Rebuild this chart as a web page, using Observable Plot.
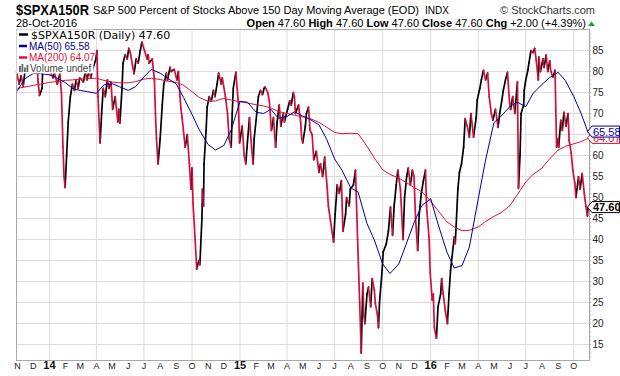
<!DOCTYPE html>
<html><head><meta charset="utf-8">
<script src="https://cdn.jsdelivr.net/npm/d3@7"></script>
<script src="https://cdn.jsdelivr.net/npm/@observablehq/plot@0.6"></script>
<style>body{margin:0;background:#fff}#chart{width:620px;height:376px}</style>
</head><body><div id="chart"></div>
<script>
const priceDates = ["2013-10-30","2013-11-04","2013-11-08","2013-11-12","2013-11-15","2013-11-21","2013-11-27","2013-12-03","2013-12-09","2013-12-10","2013-12-13","2013-12-18","2013-12-20","2013-12-24","2013-12-27",
"2014-01-02","2014-01-08","2014-01-10","2014-01-16","2014-01-21","2014-01-24","2014-01-27","2014-01-29","2014-01-31","2014-02-03","2014-02-06","2014-02-10","2014-02-14","2014-02-18","2014-02-21","2014-02-25","2014-02-28",
"2014-03-07","2014-03-11","2014-03-14","2014-03-18","2014-03-21","2014-03-26","2014-03-31","2014-04-02","2014-04-04","2014-04-08","2014-04-11","2014-04-14","2014-04-18","2014-04-22","2014-04-25","2014-04-29",
"2014-05-02","2014-05-07","2014-05-12","2014-05-14","2014-05-16","2014-05-20","2014-05-22","2014-05-26","2014-05-30","2014-06-02","2014-06-05","2014-06-09","2014-06-12","2014-06-16","2014-06-20","2014-06-24","2014-06-27",
"2014-07-02","2014-07-07","2014-07-09","2014-07-11","2014-07-17","2014-07-21","2014-07-23","2014-07-25","2014-07-28","2014-08-01","2014-08-05","2014-08-08","2014-08-13","2014-08-15","2014-08-20","2014-08-22","2014-08-28",
"2014-09-02","2014-09-05","2014-09-08","2014-09-10","2014-09-12","2014-09-18","2014-09-22","2014-09-26","2014-09-29","2014-10-01","2014-10-03","2014-10-07","2014-10-10","2014-10-14","2014-10-16","2014-10-20","2014-10-21","2014-10-23","2014-10-24","2014-10-28","2014-10-30",
"2014-11-03","2014-11-07","2014-11-11","2014-11-14","2014-11-18","2014-11-21","2014-11-26","2014-11-28","2014-12-04","2014-12-08","2014-12-11","2014-12-15","2014-12-17","2014-12-19","2014-12-24","2014-12-29","2014-12-31",
"2015-01-05","2015-01-09","2015-01-12","2015-01-15","2015-01-19","2015-01-23","2015-01-26","2015-01-28","2015-02-02","2015-02-05","2015-02-09","2015-02-13","2015-02-16","2015-02-18","2015-02-23","2015-02-26",
"2015-03-02","2015-03-06","2015-03-10","2015-03-13","2015-03-17","2015-03-20","2015-03-25","2015-03-27","2015-04-02","2015-04-06","2015-04-09","2015-04-13","2015-04-15","2015-04-17","2015-04-23","2015-04-27","2015-04-29",
"2015-05-01","2015-05-06","2015-05-08","2015-05-12","2015-05-15","2015-05-19","2015-05-22","2015-05-27","2015-06-01","2015-06-04","2015-06-08","2015-06-10","2015-06-12","2015-06-17","2015-06-19","2015-06-23","2015-06-29",
"2015-07-02","2015-07-06","2015-07-10","2015-07-14","2015-07-17","2015-07-22","2015-07-24","2015-07-29","2015-07-31","2015-08-06","2015-08-10","2015-08-14","2015-08-18","2015-08-21","2015-08-24","2015-08-26","2015-08-28",
"2015-09-01","2015-09-04","2015-09-08","2015-09-11","2015-09-15","2015-09-17","2015-09-21","2015-09-23","2015-09-25","2015-09-30","2015-10-02","2015-10-08","2015-10-12","2015-10-16","2015-10-20","2015-10-23","2015-10-27","2015-10-30",
"2015-11-04","2015-11-09","2015-11-12","2015-11-16","2015-11-19","2015-11-23","2015-11-27","2015-11-30","2015-12-03","2015-12-07","2015-12-10","2015-12-14","2015-12-18","2015-12-22","2015-12-24","2015-12-29","2015-12-31",
"2016-01-04","2016-01-06","2016-01-08","2016-01-12","2016-01-15","2016-01-20","2016-01-22","2016-01-25","2016-01-29","2016-02-02","2016-02-05","2016-02-08","2016-02-11","2016-02-15","2016-02-17","2016-02-22","2016-02-25","2016-02-29",
"2016-03-04","2016-03-07","2016-03-11","2016-03-15","2016-03-18","2016-03-23","2016-03-28","2016-03-30","2016-04-04","2016-04-07","2016-04-11","2016-04-15","2016-04-19","2016-04-22","2016-04-26","2016-04-29",
"2016-05-04","2016-05-09","2016-05-12","2016-05-16","2016-05-19","2016-05-23","2016-05-27","2016-05-31","2016-06-02","2016-06-06","2016-06-10","2016-06-15","2016-06-17","2016-06-20","2016-06-22","2016-06-27","2016-06-28",
"2016-07-01","2016-07-05","2016-07-07","2016-07-11","2016-07-15","2016-07-18","2016-07-21","2016-07-25","2016-07-26","2016-07-29","2016-08-03","2016-08-05","2016-08-09","2016-08-12","2016-08-16","2016-08-18","2016-08-22","2016-08-26","2016-08-29",
"2016-09-01","2016-09-02","2016-09-06","2016-09-09","2016-09-12","2016-09-16","2016-09-20","2016-09-22","2016-09-26","2016-09-29","2016-10-03","2016-10-05","2016-10-10","2016-10-13","2016-10-17","2016-10-21","2016-10-24","2016-10-27","2016-10-28"];
const priceValues = [80,77,79,76.5,80,82,80.5,83,81,78,74.3,76,84,83,85,
80,78.5,80,77,79.5,75,62,55,52.4,60,68,73.9,77,75.5,78,76,78.5,
77.5,80,78,80.5,78.5,81,83,85,74,63,70,76,74,78,76,77.5,
71,74,68,71,67.7,76,82,84,83,85.5,84.5,81.5,79.5,83,82,85,87,
85,83,84,82,83,78,70,64,58,64,72,77,79.6,78,81,80,80.5,
78,80,74,71,69,62,65,58,52,57,48.6,40,33,35,34,45,52,48,58,66,71.5,
74,73,75.5,74,77,79.6,77,78.5,74,70,64,62,70,76,79.8,72,63,
67,60,58,63,69,62,58,64,70,74,75.5,74.5,76,76.3,75,73,
66,69,62,68,72,67,70,68,71,73,72,75,74,70,72,68,64,
63,67,70,71.5,66,65,59,61,56,58,55,57,59.6,52,48,44.6,39.4,
46,53,51,54,42,46,50,48,52,53,56.5,40,25,13,29.6,22,20,
27,28.7,24,30.7,28,24.8,22,19,25,32.7,37,39,42,47.7,41,48,53,56.5,
52,40,50,55,57,53,56.5,55,45,37.4,46,51,54,56.5,48,40,32,
25.6,27,19,16.5,24,27,30.7,27,23,20,27,32.7,36,40.6,39,52,56,58,
62,68.8,67,64.4,70,64.4,69,73.2,76,78,80.3,78,79.6,74,70,68.4,
71,66.7,70,73,75.5,77.9,79.8,72.5,71,74,70,77.5,52.2,60,70,72,75.5,
78,80.3,82,85,84.5,85.5,82.7,78,83.4,80,83,81,83.9,80,82.5,80,78.7,80.3,62,
64,62,68.4,66,70.3,67,70,63.6,60.5,56.5,53.4,50,54.9,52,55.7,51,48,45.6,47.6];

const maDates = ["2013-10-30","2013-11-01","2013-11-15","2013-12-01","2013-12-15",
"2014-01-01","2014-01-15","2014-02-01","2014-02-15","2014-03-01","2014-03-15","2014-04-01","2014-04-15","2014-05-01","2014-05-15","2014-06-01","2014-06-15",
"2014-07-01","2014-07-15","2014-08-01","2014-08-15","2014-09-01","2014-09-15","2014-10-01","2014-10-15","2014-11-01","2014-11-15","2014-12-01","2014-12-15",
"2015-01-01","2015-01-15","2015-02-01","2015-02-15","2015-03-01","2015-03-15","2015-04-01","2015-04-15","2015-05-01","2015-05-15","2015-06-01","2015-06-15",
"2015-07-01","2015-07-15","2015-08-01","2015-08-15","2015-09-01","2015-09-15","2015-10-01","2015-10-15","2015-11-01","2015-11-15","2015-12-01","2015-12-15",
"2016-01-01","2016-01-15","2016-02-01","2016-02-15","2016-03-01","2016-03-15","2016-04-01","2016-04-15","2016-05-01","2016-05-15","2016-06-01","2016-06-15",
"2016-07-01","2016-07-15","2016-08-01","2016-08-15","2016-09-01","2016-09-15","2016-10-01","2016-10-15","2016-10-28"];
const ma50Values = [75.3,75.5,78.3,79.5,79.5,
79.2,78.5,77.3,75.9,75.5,75.2,74.8,76.8,77.1,76.4,75.5,76.4,
78.7,80.5,79.6,78.4,77.0,73.8,69.8,66.1,62.6,61.3,62.4,66.1,
72.9,72.7,70.3,70.0,71.0,68.9,69.3,70.4,69.4,68.6,67.3,64.1,
59.2,56.5,52.3,51.3,43.8,39.9,34.2,31.9,34.2,38.9,44.3,48.1,
49.7,43.7,37.0,33.2,33.8,38.2,49.7,58.9,67.8,69.4,71.7,72.7,
71.6,74.8,76.9,78.5,79.8,77.8,74,70,65.58];
const ma200Values = [76,76,76.3,76.7,77.0,
77.4,77.6,77.9,78.0,78.2,78.3,78.4,77.9,77.5,77.3,77.3,77.6,
78.2,78.4,78.1,77.7,77.4,76.7,75.2,73.8,72.9,73.0,73.6,73.2,
72.8,72.5,72.1,71.8,71.3,70.5,70.0,69.6,69.2,68.8,67.9,66.8,
65.5,65.2,65.3,65.2,62.2,59.4,56.6,55.5,54.6,53.6,52.3,51.4,
49.1,46.9,44.2,43.0,42.1,42.2,43.0,44.3,45.5,46.4,48.1,50.7,
53.7,55.5,57.0,59.1,61.3,62.2,62.8,63.3,64.07];

const yTicks = [15,20,25,30,35,40,45,50,55,60,65,70,75,80,85];
const monthDates = ["2013-11-01","2013-12-01","2014-01-01","2014-02-01","2014-03-01","2014-04-01","2014-05-01","2014-06-01","2014-07-01","2014-08-01","2014-09-01","2014-10-01",
"2014-11-01","2014-12-01","2015-01-01","2015-02-01","2015-03-01","2015-04-01","2015-05-01","2015-06-01","2015-07-01","2015-08-01","2015-09-01","2015-10-01",
"2015-11-01","2015-12-01","2016-01-01","2016-02-01","2016-03-01","2016-04-01","2016-05-01","2016-06-01","2016-07-01","2016-08-01","2016-09-01","2016-10-01"];
const monthLabels = ["N","D","14","F","M","A","M","J","J","A","S","O","N","D","15","F","M","A","M","J","J","A","S","O","N","D","16","F","M","A","M","J","J","A","S","O"];
const gridDates = ["2014-01-01","2014-04-01","2014-07-01","2014-10-01","2015-01-01","2015-04-01","2015-07-01","2015-10-01","2016-01-01","2016-04-01","2016-07-01","2016-10-01"];

const price = priceDates.map((d,i)=>({date:new Date(d), value:priceValues[i]}));
const ma = maDates.map((d,i)=>({date:new Date(d), ma50:ma50Values[i], ma200:ma200Values[i]}));
const segs = d3.pairs(price).map(([a,b])=>({x1:a.date,y1:a.value,x2:b.date,y2:b.value,up:b.value>=a.value}));
const months = monthDates.map((d,i)=>({date:new Date(d), label:monthLabels[i], year:/\d/.test(monthLabels[i])}));
const last = priceValues[priceValues.length-1];
const last50 = ma50Values[ma50Values.length-1];
const last200 = ma200Values[ma200Values.length-1];

const FONT = "'Liberation Sans', Arial, sans-serif";
const chart = Plot.plot({
  width:620, height:376, marginTop:29, marginLeft:16, marginRight:31, marginBottom:16,
  style:{fontFamily:FONT, fontSize:"10px", background:"#fff", overflow:"visible"},
  x:{type:"utc", domain:[new Date("2013-10-30"), new Date("2016-10-31")], axis:null},
  y:{domain:[11.2,90], axis:null},
  marks:[
    Plot.ruleY(yTicks,{stroke:"#dcdcdc"}),
    Plot.ruleX(gridDates.map(d=>new Date(d)),{stroke:"#dcdcdc"}),
    Plot.link(segs.filter(s=>s.up),{x1:"x1",y1:"y1",x2:"x2",y2:"y2",stroke:"#000",strokeWidth:1.7,strokeLinecap:"round"}),
    Plot.link(segs.filter(s=>!s.up),{x1:"x1",y1:"y1",x2:"x2",y2:"y2",stroke:"#d40f3c",strokeWidth:1.7,strokeLinecap:"round"}),
    Plot.line(ma,{x:"date",y:"ma200",stroke:"#e0103c",strokeWidth:1}),
    Plot.line(ma,{x:"date",y:"ma50",stroke:"#000099",strokeWidth:1}),
    Plot.frame({stroke:"#a8a8a8"}),
    Plot.text(yTicks.filter(t=>Math.abs(t-last50)>2),{y:d=>d,text:d=>String(d),frameAnchor:"right",dx:3,textAnchor:"start",fill:"#222",fontSize:10}),
    Plot.text(months.filter(m=>!m.year),{x:"date",text:"label",frameAnchor:"bottom",dy:8,fill:"#222",fontSize:9}),
    Plot.text(months.filter(m=>m.year),{x:"date",text:"label",frameAnchor:"bottom",dy:8,fill:"#111",fontSize:11,fontWeight:"bold"})
  ]
});
document.getElementById("chart").appendChild(chart);

const svg = d3.select(chart);
const ys = chart.scale("y");
// right-side minor ticks
svg.append("g").selectAll("line").data(d3.range(12, 90)).join("line")
  .attr("x1",589).attr("x2",591).attr("y1",d=>ys.apply(d)+0.5).attr("y2",d=>ys.apply(d)+0.5)
  .attr("stroke","#aaa").attr("stroke-width",1);

// header
const hdr = svg.append("g").attr("font-family",FONT).attr("fill","#000").attr("text-anchor","start");
hdr.append("text").attr("x",16).attr("y",15).attr("font-size",15).attr("font-weight","bold")
  .attr("textLength",73).attr("lengthAdjust","spacingAndGlyphs").text("$SPXA150R");
hdr.append("text").attr("x",93).attr("y",14).attr("font-size",11)
  .attr("textLength",326).attr("lengthAdjust","spacingAndGlyphs").text("S&P 500 Percent of Stocks Above 150 Day Moving Average (EOD)");
hdr.append("text").attr("x",425).attr("y",14).attr("font-size",10).text("INDX");
hdr.append("text").attr("x",595).attr("y",14).attr("font-size",11).attr("text-anchor","end").attr("fill","#333").text("© StockCharts.com");
hdr.append("text").attr("x",16).attr("y",27).attr("font-size",11).text("28-Oct-2016");
const ohlc = hdr.append("text").attr("x",586).attr("y",27).attr("font-size",11).attr("text-anchor","end");
[["Open",1],[" 47.60 ",0],["High",1],[" 47.60 ",0],["Low",1],[" 47.60 ",0],["Close",1],[" 47.60 ",0],["Chg",1],[" +2.00 (+4.39%)",0]]
  .forEach(([t,b])=>ohlc.append("tspan").attr("font-weight",b?"bold":"normal").attr("xml:space","preserve").text(t));
hdr.append("path").attr("d","M588,26 L591.5,21.5 L595,26 Z").attr("fill","#2a9a2a");

// legend
const lg = svg.append("g").attr("font-family",FONT).attr("text-anchor","start");
lg.append("rect").attr("x",16.5).attr("y",29.5).attr("width",77).attr("height",44).attr("fill","#fff");
lg.append("line").attr("x1",19).attr("x2",28).attr("y1",34.5).attr("y2",34.5).attr("stroke","#000").attr("stroke-width",2.5);
lg.append("text").attr("x",31).attr("y",38.5).attr("font-family","'DejaVu Sans', Verdana, sans-serif").attr("font-size",11).attr("fill","#000").text("$SPXA150R (Daily) 47.60");
lg.append("line").attr("x1",19).attr("x2",27).attr("y1",46).attr("y2",46).attr("stroke","#000099").attr("stroke-width",2.5);
lg.append("text").attr("x",29).attr("y",49.5).attr("font-size",10).attr("fill","#000099").text("MA(50) 65.58");
lg.append("line").attr("x1",19).attr("x2",27).attr("y1",57.5).attr("y2",57.5).attr("stroke","#e0103c").attr("stroke-width",2.5);
lg.append("text").attr("x",29).attr("y",61).attr("font-size",10).attr("fill","#e0103c").text("MA(200) 64.07");
[[19,66],[21.5,64],[24,67.5],[26.5,65]].forEach(([x,y])=>lg.append("rect").attr("x",x).attr("y",y).attr("width",1.8).attr("height",72-y).attr("fill","#666"));
lg.append("text").attr("x",30).attr("y",72).attr("font-size",10).attr("fill","#444").text("Volume undef");

// right value tags
function tag(v, color, label, bold){
  const yc = ys.apply(v);
  const g = svg.append("g").attr("text-anchor","start");
  g.append("path").attr("d",`M587.5,${yc} L592,${yc-5.5} L619.5,${yc-5.5} L619.5,${yc+5.5} L592,${yc+5.5} Z`)
    .attr("fill","#fff").attr("stroke",color).attr("stroke-width",1);
  g.append("text").attr("x",593).attr("y",yc+4).attr("font-family",FONT).attr("font-size",11)
    .attr("font-weight",bold?"bold":"normal").attr("fill",color).text(label);
}
tag(last200, "#e0103c", "64.07", false);
tag(last50, "#000099", "65.58", false);
tag(last, "#000", "47.60", true);
</script></body></html>
